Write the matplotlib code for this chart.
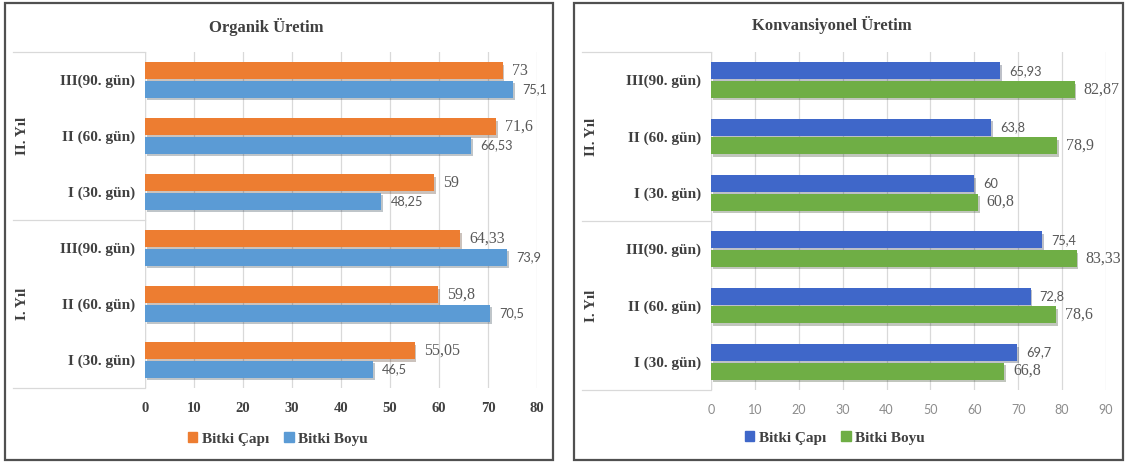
import matplotlib
matplotlib.use('Agg')
import matplotlib.pyplot as plt
import matplotlib.patheffects as pe
from matplotlib.patches import Rectangle, Patch
import numpy as np

# kategoriler (alttan üste)
donemler = ['I (30. gün)', 'II (60. gün)', 'III(90. gün)',
            'I (30. gün)', 'II (60. gün)', 'III(90. gün)']
yillar = ['I. Yıl', 'II. Yıl']

# Organik üretim
org_cap = [55.05, 59.8, 64.33, 59, 71.6, 73]
org_boy = [46.5, 70.5, 73.9, 48.25, 66.53, 75.1]

# Konvansiyonel üretim
konv_cap = [69.7, 72.8, 75.4, 60, 63.8, 65.93]
konv_boy = [66.8, 78.6, 83.33, 60.8, 78.9, 82.87]

SERIF = 'Liberation Serif'
SANS = 'Lato'
W, H = 1127, 463


def fmt(v):
    s = ('%.2f' % v).rstrip('0').rstrip('.')
    return s.replace('.', ',')


def etiket(ax, x, y, txt, buyuk):
    # büyük etiketler serif, küçükler sans
    if buyuk:
        kw = dict(family=SERIF, fontsize=11.5)
    else:
        kw = dict(family=SANS, fontsize=9.2)
    ax.annotate(txt, (x, y), xytext=(6.5, 0), textcoords='offset points',
                ha='left', va='center', color='#595959', annotation_clip=False, **kw)


def panel(ax, cap, boy, c_cap, c_boy, xmax, big_cap, tick_style, tbl_x):
    y = np.arange(len(donemler))
    h = 0.30
    off = 0.165
    shadow = [pe.SimplePatchShadow(offset=(1.2, -1.8), alpha=0.28), pe.Normal()]
    b1 = ax.barh(y + off, cap, height=h, color=c_cap, zorder=3)
    b2 = ax.barh(y - off, boy, height=h, color=c_boy, zorder=3)
    for b in list(b1) + list(b2):
        b.set_path_effects(shadow)

    for yi, v in zip(y, cap):
        etiket(ax, v, yi + off, fmt(v), big_cap)
    for yi, v in zip(y, boy):
        etiket(ax, v, yi - off, fmt(v), not big_cap)

    ax.set_xlim(0, xmax)
    ax.set_ylim(-0.5, len(donemler) - 0.5)
    ax.set_xticks(np.arange(0, xmax + 1, 10))
    ax.set_yticks(y)
    ax.set_yticklabels(donemler, family=SERIF, fontweight='bold', fontsize=11, color='#404040')
    ax.tick_params(axis='y', length=0, pad=7)
    ax.tick_params(axis='x', length=0, pad=10)
    if tick_style == 'serif':
        for t in ax.get_xticklabels():
            t.set_family(SERIF)
            t.set_fontweight('bold')
            t.set_fontsize(10.5)
            t.set_color('#404040')
    else:
        for t in ax.get_xticklabels():
            t.set_family(SANS)
            t.set_fontsize(9)
            t.set_color('#8c8c8c')
    ax.grid(axis='x', color='#d9d9d9', lw=0.9, zorder=0)
    for s in ax.spines.values():
        s.set_visible(False)
    ax.axvline(0, color='#d9d9d9', lw=0.9, zorder=1)

    # kategori tablosu çizgileri
    tr = ax.get_yaxis_transform()
    for yl in (-0.5, 2.5, 5.5):
        ax.plot([tbl_x, 0], [yl, yl], transform=tr, color='#d9d9d9', lw=0.9, clip_on=False)
    for i, yil in enumerate(yillar):
        ax.text(tbl_x + 0.025, 3 * i + 1, yil, transform=tr, rotation=90, ha='center', va='center',
                family=SERIF, fontweight='bold', fontsize=11, color='#404040')


fig = plt.figure(figsize=(W / 100, H / 100), dpi=100)

# çerçeveler
for x0, x1 in ((5, 553), (574, 1123)):
    fig.add_artist(Rectangle((x0 / W, 1 - 460 / H), (x1 - x0) / W, 457 / H,
                             transform=fig.transFigure, fill=False, ec='#505050', lw=1.6))

ax1 = fig.add_axes([145 / W, 1 - 388 / H, (537 - 145) / W, 336 / H])
panel(ax1, org_cap, org_boy, '#ed7d31', '#5b9bd5', 80, True, 'serif', (13 - 145) / 392)

ax2 = fig.add_axes([711 / W, 1 - 390 / H, (1106 - 711) / W, 338 / H])
panel(ax2, konv_cap, konv_boy, '#3f67c9', '#6fae45', 90, False, 'sans', (582 - 711) / 395)

fig.text(266 / W, 1 - 27 / H, 'Organik Üretim', ha='center', va='center',
         family=SERIF, fontweight='bold', fontsize=12, color='#404040')
fig.text(832 / W, 1 - 25 / H, 'Konvansiyonel Üretim', ha='center', va='center',
         family=SERIF, fontweight='bold', fontsize=12, color='#404040')

leg_font = {'family': SERIF, 'weight': 'bold', 'size': 11}
for cx, cy, c1, c2 in ((278, 439, '#ed7d31', '#5b9bd5'), (835, 438, '#3f67c9', '#6fae45')):
    leg = fig.legend(handles=[Patch(color=c1, label='Bitki Çapı'), Patch(color=c2, label='Bitki Boyu')],
                     loc='center', bbox_to_anchor=(cx / W, 1 - cy / H), ncol=2, frameon=False,
                     prop=leg_font, handlelength=0.6, handleheight=0.6, handletextpad=0.3,
                     columnspacing=1.0, labelcolor='#404040')

fig.savefig('out.png', dpi=100)
